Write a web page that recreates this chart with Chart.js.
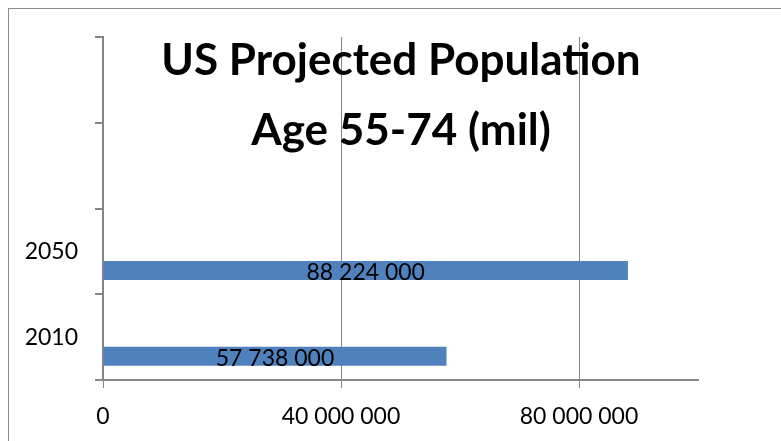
<!DOCTYPE html>
<html>
<head>
<meta charset="utf-8">
<script src="https://cdn.jsdelivr.net/npm/chart.js@4"></script>
<style>
  html, body { margin: 0; padding: 0; background: #fff; overflow: hidden; }
  #wrap { width: 781px; height: 441px; position: relative; }
</style>
</head>
<body>
<div id="wrap"><canvas id="canvas" width="781" height="441"></canvas></div>
<script>
// categories top to bottom (two empty slots above, like the original sheet)
const categories = ['', '', '2050', '2010'];
const population = [null, null, 88224000, 57738000];
const emptySeries = [null, null, null, null];
const xTicks = [0, 40000000, 80000000];
const xMax = 100000000;
const titleLines = ['US Projected Population', 'Age 55-74 (mil)'];

const gray = '#868686';
const fontName = 'Lato, Carlito, Calibri, sans-serif';

function spaced(v){
    return String(v).replace(/\B(?=(\d{3})+(?!\d))/g, ' ');
}

// frame + overlay title + value labels
const extras = {
    id: 'extras',
    beforeDraw(chart){
        const c = chart.ctx;
        c.save();
        c.strokeStyle = '#8c8c8c';
        c.lineWidth = 1;
        c.strokeRect(8.5, 8.5, 900, 900);
        c.restore();
    },
    afterDraw(chart){
        const c = chart.ctx;
        c.save();
        c.fillStyle = '#000';
        c.textAlign = 'center';
        c.textBaseline = 'alphabetic';
        c.font = 'bold 44px ' + fontName;
        c.fillText(titleLines[0], 401, 75);
        c.fillText(titleLines[1], 401, 145);

        const meta = chart.getDatasetMeta(2);
        c.font = '23px ' + fontName;
        c.textBaseline = 'middle';
        meta.data.forEach((bar, i) => {
            const v = population[i];
            if (v == null) return;
            const x = (bar.x + bar.base) / 2;
            c.fillText(spaced(v), x, bar.y + 2);
        });
        c.restore();
    }
};

const ctx = document.getElementById('canvas').getContext('2d');
const myChart = new Chart(ctx, {
    type: 'bar',
    data: {
        labels: categories,
        datasets: [
            { label: 's1', data: emptySeries, backgroundColor: '#4F81BD' },
            { label: 's2', data: emptySeries, backgroundColor: '#4F81BD' },
            { label: 'Population', data: population, backgroundColor: '#4F81BD' }
        ]
    },
    options: {
        indexAxis: 'y',
        responsive: false,
        animation: false,
        categoryPercentage: 0.667,
        barPercentage: 1,
        layout: { padding: { left: 0, top: 37, right: 83, bottom: 0 } },
        plugins: {
            legend: { display: false },
            tooltip: { enabled: false },
            title: { display: false }
        },
        scales: {
            x: {
                min: 0,
                max: xMax,
                afterBuildTicks: (axis) => { axis.ticks = xTicks.map(v => ({ value: v })); },
                afterFit: (axis) => { axis.height = 61; },
                border: { color: gray, width: 2 },
                grid: { color: gray, lineWidth: 1, tickLength: 8, drawTicks: true },
                ticks: {
                    color: '#000',
                    font: { family: fontName, size: 23 },
                    padding: 15,
                    maxRotation: 0,
                    callback: (v) => spaced(v)
                }
            },
            y: {
                afterFit: (axis) => { axis.width = 103; },
                border: { color: gray, width: 2 },
                grid: { color: gray, lineWidth: 2, tickLength: 8, drawOnChartArea: false, offset: true },
                ticks: {
                    color: '#000',
                    autoSkip: false,
                    font: { family: fontName, size: 23 },
                    padding: 17
                }
            }
        }
    },
    plugins: [extras]
});
</script>
</body>
</html>
